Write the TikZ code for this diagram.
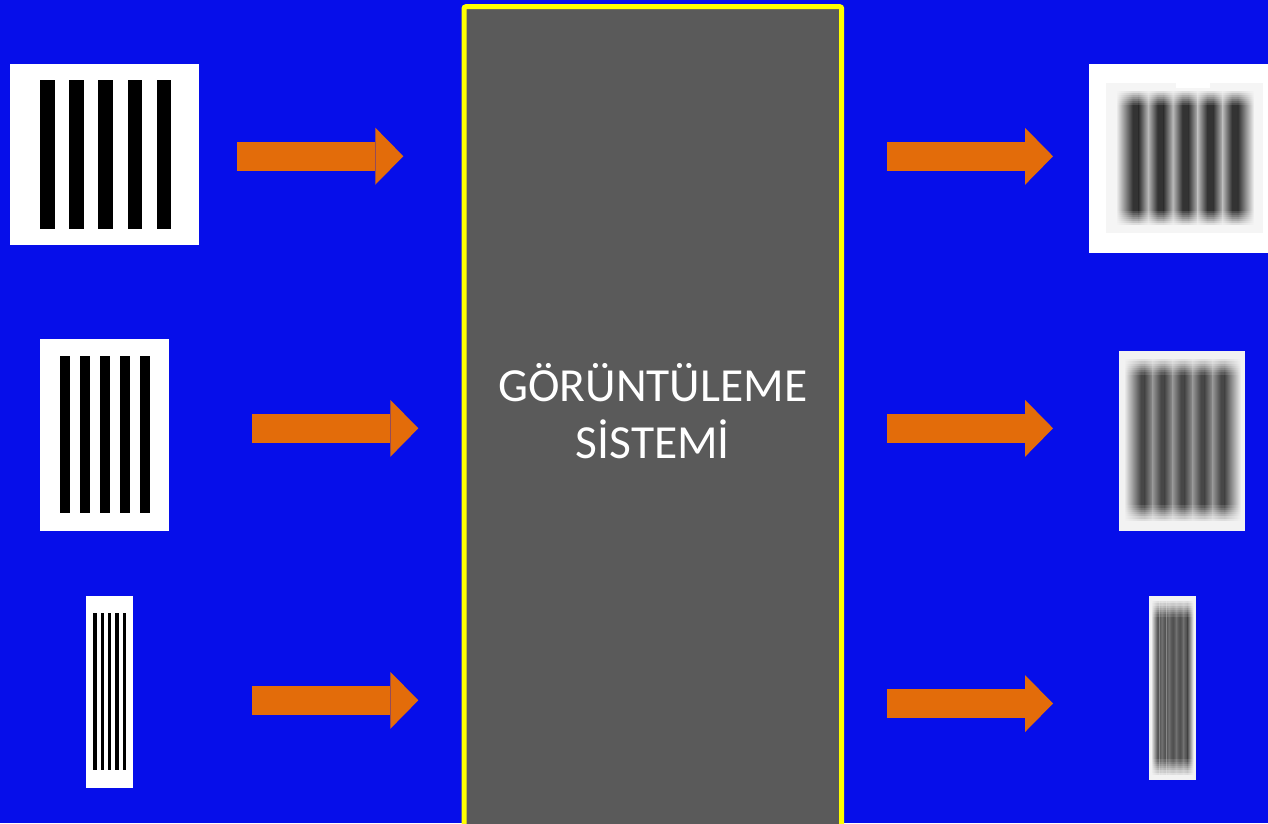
\documentclass[tikz,border=0pt]{standalone}
\usepackage{fontspec}
\setmainfont{Carlito}
\usetikzlibrary{arrows.meta}

\definecolor{bgblue}{RGB}{6,14,234}
\definecolor{arroworange}{RGB}{227,108,10}
\definecolor{sysgray}{RGB}{90,90,90}
\definecolor{frameyellow}{RGB}{255,255,0}

% one blurred stripe: centre, top, bottom, core half width, half pitch, dark, edge
\newcommand{\softbar}[7]{%
  \fill[#6] ({#1-#4},#2) rectangle ({#1+#4},#3);
  \shade[left color=#7, right color=#6] ({#1-#5},#2) rectangle ({#1-#4},#3);
  \shade[left color=#6, right color=#7] ({#1+#4},#2) rectangle ({#1+#5},#3);
}
% fade the stripe ends into the panel: x1, x2, top, bottom, colour, strip height
\newcommand{\stripefade}[6]{%
  \fill[#5] (#1,{#3-1}) rectangle (#2,{#3+#6});
  \fill[#5] (#1,{#4+1}) rectangle (#2,{#4-#6});
  \foreach \s/\o in {1/0.88,2/0.75,3/0.62,4/0.5,5/0.38,6/0.26,7/0.14}{
    \fill[#5, opacity=\o] (#1,{#3+#6*\s}) rectangle (#2,{#3+#6*\s+#6});
    \fill[#5, opacity=\o] (#1,{#4-#6*\s}) rectangle (#2,{#4-#6*\s-#6});
  }}

\tikzset{
  panel/.style = {fill=white, inner sep=0pt, anchor=north west},
  bigarrow/.style = {arroworange, line width=28.7pt,
    -{Triangle[width=57pt,length=28pt,line width=0pt]}},
  sysbox/.style = {draw=frameyellow, line width=5pt, fill=sysgray,
    rounded corners=2pt, minimum width=377.7pt, minimum height=823.3pt,
    inner sep=0pt, text=white, align=center, text depth=14pt,
    font=\fontsize{47.5}{57}\selectfont}
}

\begin{document}
\begin{tikzpicture}[x=1pt, y=-1pt]
  \clip (0,0) rectangle (1268,823);
  \fill[bgblue] (0,0) rectangle (1268,823);

  % imaging system
  \node[sysbox] (sys) at (652.85,418.35) {GÖRÜNTÜLEME\\SİSTEMİ};

  % input targets
  \node[panel, minimum width=189pt, minimum height=181pt] (in1) at (10,64) {};
  \foreach \i in {0,...,4}
    \fill ({40+29.2*\i},80) rectangle ++(14.6,149.3);
  \node[panel, minimum width=129pt, minimum height=192pt] (in2) at (40,339) {};
  \foreach \i in {0,...,4}
    \fill ({60.3+20*\i},356) rectangle ++(10,157.3);
  \node[panel, minimum width=47pt, minimum height=192pt] (in3) at (86,595.7) {};
  \foreach \i in {0,...,4}
    \fill ({93.3+7.3*\i},613) rectangle ++(3.3,157);

  % blurred images
  \node[panel, minimum width=180pt, minimum height=188.3pt] (out1) at (1089,64) {};
  \fill[gray!8] (1106,83.3) rectangle (1262.7,233.3);
  \fill[white] (1175.7,83.3) rectangle (1210,87.5);
  \foreach \i in {0,...,4}
    \softbar{1135.7+24.8*\i}{89}{227}{3}{12.4}{black!80}{black!28};
  \shade[left color=gray!8, right color=black!80] (1116,89) rectangle (1132.7,227);
  \shade[left color=black!80, right color=gray!8] (1238,89) rectangle (1254,227);
  \stripefade{1106}{1262.7}{89}{227}{gray!8}{2}

  \node[panel, fill=gray!10, minimum width=126pt, minimum height=180pt] (out2) at (1119,351) {};
  \foreach \i in {0,...,4}
    \softbar{1142.7+20*\i}{357}{523}{2}{10}{black!72}{black!42};
  \shade[left color=gray!10, right color=black!72] (1124,357) rectangle (1140.7,523);
  \shade[left color=black!72, right color=gray!10] (1224.7,357) rectangle (1241,523);
  \stripefade{1119}{1245}{357}{523}{gray!10}{2.2}

  \node[panel, fill=gray!10, minimum width=46.7pt, minimum height=184pt] (out3) at (1149,596) {};
  \foreach \i in {0,...,4}
    \softbar{1158.3+7.1*\i}{599}{777}{1}{3.55}{black!67}{black!56};
  \shade[left color=gray!10, right color=black!67] (1151,599) rectangle (1157.3,777);
  \shade[left color=black!67, right color=gray!10] (1187.7,599) rectangle (1193.5,777);
  \stripefade{1149}{1195.7}{599}{777}{gray!10}{2.2}

  % arrows in and out
  \coordinate (a1) at (237,156.2);   \coordinate (b1) at (403.3,156.2);
  \coordinate (a2) at (252,428.3);   \coordinate (b2) at (418.3,428.3);
  \coordinate (a3) at (252,700.3);   \coordinate (b3) at (418.3,700.3);
  \coordinate (c1) at (887.3,156.3); \coordinate (d1) at (1053,156.3);
  \coordinate (c2) at (887.3,428.3); \coordinate (d2) at (1053,428.3);
  \coordinate (c3) at (887.3,703.5); \coordinate (d3) at (1053,703.5);
  \foreach \k in {1,2,3}{
    \draw[bigarrow] (a\k) -- (b\k);
    \draw[bigarrow] (c\k) -- (d\k);
  }
\end{tikzpicture}
\end{document}
